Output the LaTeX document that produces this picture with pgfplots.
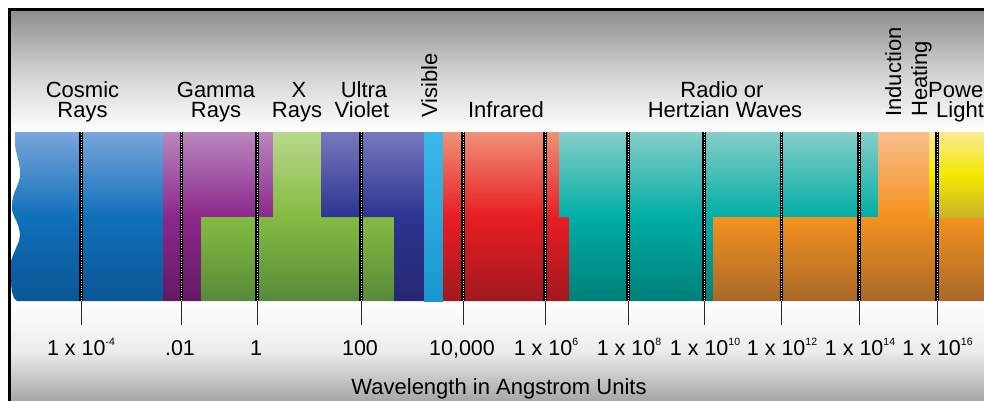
\documentclass[border=0pt]{standalone}
\usepackage{pgfplots}
\pgfplotsset{compat=1.18}
\usepackage{fontspec}
\setmainfont{Liberation Sans}
\newcommand\lbl{\fontsize{22}{24}\selectfont}
\newcommand\tlbl{\fontsize{21.5}{24}\selectfont}
\newcommand\sups[1]{\raisebox{9.5pt}{\fontsize{10.5}{10.5}\selectfont #1}}
\definecolor{bgtop}{RGB}{140,140,140}
\definecolor{bgmid}{RGB}{208,208,208}
\definecolor{bgbotmid}{RGB}{236,236,236}
\definecolor{bgbot}{RGB}{165,165,165}
\definecolor{blueT}{RGB}{122,166,220}
\definecolor{blueM}{RGB}{16,112,186}
\definecolor{blueB}{RGB}{12,86,150}
\definecolor{purT}{RGB}{185,135,190}
\definecolor{purM}{RGB}{140,40,140}
\definecolor{purB}{RGB}{100,25,100}
\definecolor{grnT}{RGB}{185,215,140}
\definecolor{grnM}{RGB}{132,188,65}
\definecolor{grnB}{RGB}{88,138,58}
\definecolor{uvT}{RGB}{120,120,190}
\definecolor{uvM}{RGB}{45,52,145}
\definecolor{uvB}{RGB}{38,40,112}
\definecolor{visT}{RGB}{60,185,235}
\definecolor{visB}{RGB}{25,150,205}
\definecolor{redT}{RGB}{240,145,120}
\definecolor{redM}{RGB}{232,30,36}
\definecolor{redB}{RGB}{160,25,30}
\definecolor{tealT}{RGB}{135,205,200}
\definecolor{tealM}{RGB}{0,174,166}
\definecolor{tealB}{RGB}{0,128,120}
\definecolor{orT}{RGB}{248,190,140}
\definecolor{orM}{RGB}{245,145,30}
\definecolor{orB}{RGB}{168,105,40}
\definecolor{yelT}{RGB}{250,235,150}
\definecolor{yelM}{RGB}{245,232,0}
\definecolor{yelB}{RGB}{200,180,40}
\begin{document}
\begin{tikzpicture}[x=1pt,y=1pt]
\useasboundingbox (0,0) rectangle (984,400);
\clip (0,0) rectangle (984,400);
\begin{axis}[at={(0,0)}, anchor=south west, width=984pt, height=400pt,
  scale only axis, xmin=0, xmax=984, ymin=0, ymax=400, y dir=reverse,
  hide axis, clip=false]
% background
\addplot[draw=none, fill=white] coordinates {(0,0) (984,0) (984,400) (0,400)} -- cycle;
\addplot[draw=none, top color=bgtop, bottom color=white, middle color=bgmid]
  coordinates {(9,9) (990,9) (990,132) (9,132)} -- cycle;
\addplot[draw=none, top color=white, bottom color=bgbot, middle color=bgbotmid]
  coordinates {(9,300) (990,300) (990,402) (9,402)} -- cycle;
% spectrum regions
\addplot[draw=none, top color=blueT, bottom color=blueB, middle color=blueM]
  coordinates {(15,132) (163,132) (163,301) (17,301) (14,298) (12,292) (11,284) (10,276)
  (10,268) (11,261) (13,255) (16,248) (19,241) (20,234) (19,228) (17,222) (14,216) (12,210) (12,203)
  (13,197) (15,191) (18,184) (20,177) (20,170) (19,163) (17,155) (15,146) (15,138)} -- cycle;
\addplot[draw=none, top color=purT, bottom color=purB, middle color=purM]
  coordinates {(163,132) (273,132) (273,217) (201,217) (201,301) (163,301)} -- cycle;
\addplot[draw=none, top color=grnT, bottom color=grnB, middle color=grnM]
  coordinates {(273,132) (321,132) (321,217) (394,217) (394,301) (201,301) (201,217) (273,217)} -- cycle;
\addplot[draw=none, top color=uvT, bottom color=uvB, middle color=uvM]
  coordinates {(321,132) (424,132) (424,301) (394,301) (394,217) (321,217)} -- cycle;
\addplot[draw=none, top color=visT, bottom color=visB]
  coordinates {(424,132) (443,132) (443,301) (424,301)} -- cycle;
\addplot[draw=none, top color=redT, bottom color=redB, middle color=redM]
  coordinates {(443,132) (559,132) (559,217) (569,217) (569,301) (443,301)} -- cycle;
\addplot[draw=none, top color=tealT, bottom color=tealB, middle color=tealM]
  coordinates {(559,132) (878,132) (878,217) (713,217) (713,301) (569,301) (569,217) (559,217)} -- cycle;
\addplot[draw=none, top color=orT, bottom color=orB, middle color=orM]
  coordinates {(878,132) (929,132) (929,217) (990,217) (990,301) (713,301) (713,217) (878,217)} -- cycle;
\addplot[draw=none, top color=yelT, bottom color=yelB, middle color=yelM]
  coordinates {(929,132) (990,132) (990,217) (929,217)} -- cycle;
% dotted dividers
\addplot[black, line width=3.2pt, unbounded coords=jump] coordinates {
 (81,132) (81,301) (nan,nan) (181.5,132) (181.5,301) (nan,nan)
 (257,132) (257,301) (nan,nan) (361,132) (361,301) (nan,nan)
 (463,132) (463,301) (nan,nan) (545,132) (545,301) (nan,nan)
 (628,132) (628,301) (nan,nan) (704,132) (704,301) (nan,nan)
 (781.5,132) (781.5,301) (nan,nan) (859,132) (859,301) (nan,nan)
 (937,132) (937,301)};
\addplot[white, line width=0.8pt, dash pattern=on 0.9pt off 1.5pt, unbounded coords=jump] coordinates {
 (81,132) (81,301) (nan,nan) (181.5,132) (181.5,301) (nan,nan)
 (257,132) (257,301) (nan,nan) (361,132) (361,301) (nan,nan)
 (463,132) (463,301) (nan,nan) (545,132) (545,301) (nan,nan)
 (628,132) (628,301) (nan,nan) (704,132) (704,301) (nan,nan)
 (781.5,132) (781.5,301) (nan,nan) (859,132) (859,301) (nan,nan)
 (937,132) (937,301)};
% tick lines
\addplot[black!85, line width=1pt, unbounded coords=jump] coordinates {
 (81,301) (81,325) (nan,nan) (181.5,301) (181.5,325) (nan,nan)
 (257,301) (257,325) (nan,nan) (361,301) (361,325) (nan,nan)
 (463,301) (463,325) (nan,nan) (545,301) (545,325) (nan,nan)
 (628,301) (628,325) (nan,nan) (704,301) (704,325) (nan,nan)
 (781.5,301) (781.5,325) (nan,nan) (859,301) (859,325) (nan,nan)
 (937,301) (937,325)};
% frame
\addplot[black, line width=3pt] coordinates {(9,405) (9,9.5) (990,9.5)};
% labels
\node[font=\lbl, anchor=base] at (axis cs:82.5,97) {Cosmic};
\node[font=\lbl, anchor=base] at (axis cs:82.5,117) {Rays};
\node[font=\lbl, anchor=base] at (axis cs:216,97) {Gamma};
\node[font=\lbl, anchor=base] at (axis cs:216,117) {Rays};
\node[font=\lbl, anchor=base] at (axis cs:299,97) {X};
\node[font=\lbl, anchor=base] at (axis cs:297,117) {Rays};
\node[font=\lbl, anchor=base] at (axis cs:364,97) {Ultra};
\node[font=\lbl, anchor=base] at (axis cs:362,117) {Violet};
\node[font=\lbl, anchor=base west, rotate=90, inner sep=0pt] at (axis cs:437,118) {Visible};
\node[font=\lbl, anchor=base] at (axis cs:506,117) {Infrared};
\node[font=\lbl, anchor=base] at (axis cs:722,97) {Radio or};
\node[font=\lbl, anchor=base] at (axis cs:725,117) {Hertzian Waves};
\node[font=\lbl, anchor=base west, rotate=90, inner sep=0pt] at (axis cs:901,117) {Induction};
\node[font=\lbl, anchor=base west, rotate=90, inner sep=0pt] at (axis cs:927,117) {Heating};
\node[font=\lbl, anchor=base west, inner sep=0pt] at (axis cs:928,97) {Power};
\node[font=\lbl, anchor=base west, inner sep=0pt] at (axis cs:936,117) {Light};
% tick labels
\node[font=\tlbl, anchor=base] at (axis cs:81,355) {1 x 10\sups{-4}};
\node[font=\tlbl, anchor=base] at (axis cs:180,355) {.01};
\node[font=\tlbl, anchor=base] at (axis cs:256,355) {1};
\node[font=\tlbl, anchor=base] at (axis cs:360,355) {100};
\node[font=\tlbl, anchor=base] at (axis cs:462,355) {10,000};
\node[font=\tlbl, anchor=base] at (axis cs:546,355) {1 x 10\sups{6}};
\node[font=\tlbl, anchor=base] at (axis cs:629,355) {1 x 10\sups{8}};
\node[font=\tlbl, anchor=base] at (axis cs:705,355) {1 x 10\sups{10}};
\node[font=\tlbl, anchor=base] at (axis cs:782,355) {1 x 10\sups{12}};
\node[font=\tlbl, anchor=base] at (axis cs:860,355) {1 x 10\sups{14}};
\node[font=\tlbl, anchor=base] at (axis cs:937.5,355) {1 x 10\sups{16}};
\node[font=\lbl, anchor=base] at (axis cs:499,394) {Wavelength in Angstrom Units};
\end{axis}
\end{tikzpicture}
\end{document}
